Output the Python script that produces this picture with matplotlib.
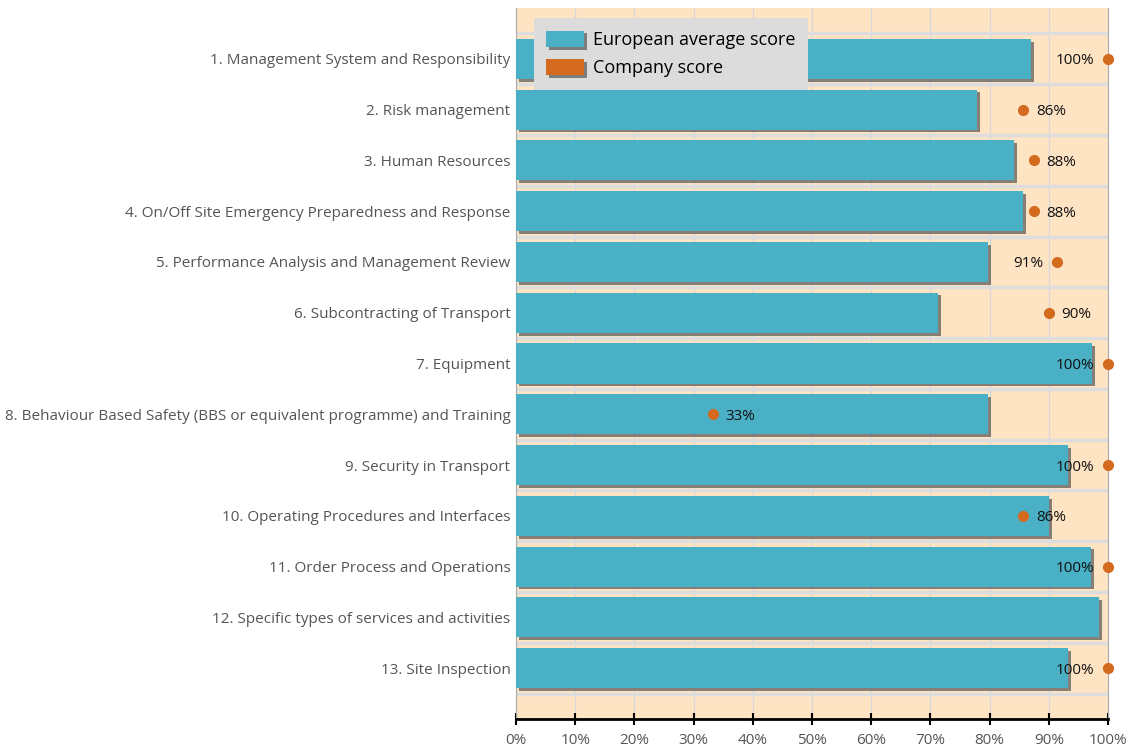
import numpy as np
from matplotlib import pyplot as plt
import matplotlib.patheffects as pe
from matplotlib.patches import Patch

# Datos
categorias = [
    "1. Management System and Responsibility",
    "2. Risk management",
    "3. Human Resources",
    "4. On/Off Site Emergency Preparedness and Response",
    "5. Performance Analysis and Management Review",
    "6. Subcontracting of Transport",
    "7. Equipment",
    "8. Behaviour Based Safety (BBS or equivalent programme) and Training",
    "9. Security in Transport",
    "10. Operating Procedures and Interfaces",
    "11. Order Process and Operations",
    "12. Specific types of services and activities",
    "13. Site Inspection",
]
promedio_europeo = [87.0, 77.9, 84.1, 85.6, 79.7, 71.3, 97.3, 79.7, 93.2, 90.0, 97.1, 98.5, 93.2]
empresa = [100, 85.7, 87.5, 87.5, 91.4, 90, 100, 33.3, 100, 85.7, 100, None, 100]
# etiqueta a la izquierda del punto?
etiqueta_izq = [True, False, False, False, True, False, True, False, True, False, True, False, True]

color_barra = "#4AB0C6"
color_punto = "#D46A1E"
fondo = "#FFE4C4"

plt.rcParams['font.family'] = ['Open Sans', 'DejaVu Sans']

fig = plt.figure(figsize=(11.39, 7.48), dpi=100)
ax = fig.add_axes([516 / 1139, 1 - 719 / 748, 592 / 1139, 711 / 748])
ax.set_facecolor(fondo)

y = np.arange(len(categorias))
sombra = [pe.SimplePatchShadow(offset=(2, -2), shadow_rgbFace="#555555", alpha=0.7), pe.Normal()]
barras = ax.barh(y, promedio_europeo, height=0.79, color=color_barra, zorder=3)
for b in barras:
    b.set_path_effects(sombra)

# separadores de filas
for i in range(len(categorias) + 1):
    ax.axhline(i - 0.5, color="#DDDDDD", lw=2.5, zorder=2)

# puntos y etiquetas
for i, v in enumerate(empresa):
    if v is None:
        continue
    ax.plot(v, i, "o", color=color_punto, ms=7, zorder=5, clip_on=False)
    if etiqueta_izq[i]:
        ax.annotate(f"{v:.0f}%", (v, i), xytext=(-10, 0), textcoords="offset points",
                    ha="right", va="center_baseline", fontsize=11, color="#111111", zorder=6)
    else:
        ax.annotate(f"{v:.0f}%", (v, i), xytext=(9, 0), textcoords="offset points",
                    ha="left", va="center_baseline", fontsize=11, color="#111111", zorder=6)

ax.set_xlim(0, 100)
ax.set_ylim(13, -1)
ax.set_xticks(np.arange(0, 101, 10))
ax.set_xticklabels([f"{t}%" for t in range(0, 101, 10)], color="#555555", fontsize=11)
ax.set_yticks(y)
ax.set_yticklabels(categorias, color="#555555", fontsize=11, va="center_baseline")
ax.tick_params(axis="y", length=0, pad=4)
ax.tick_params(axis="x", direction="inout", length=8, width=1.5, color="black", pad=6)
ax.grid(axis="x", color="#D8D8D8", lw=1, zorder=1)
ax.set_axisbelow(True)

ax.spines["bottom"].set_color("black")
ax.spines["bottom"].set_linewidth(2)
ax.spines["left"].set_color("#AAAAAA")
ax.spines["right"].set_color("#AAAAAA")
ax.spines["top"].set_visible(False)

# Leyenda
handles = [Patch(facecolor=color_barra, label="European average score", path_effects=sombra),
           Patch(facecolor=color_punto, label="Company score", path_effects=sombra)]
leg = ax.legend(handles=handles, loc="upper left", bbox_to_anchor=(0.030, 0.986), fontsize=13,
                frameon=True, facecolor="#DCDCDC", edgecolor="none", framealpha=1,
                fancybox=False, handlelength=2.1, handleheight=1.0, borderpad=0.7,
                labelspacing=0.55, handletextpad=0.5, borderaxespad=0)
leg.set_zorder(10)

plt.savefig("out.png", dpi=100)
